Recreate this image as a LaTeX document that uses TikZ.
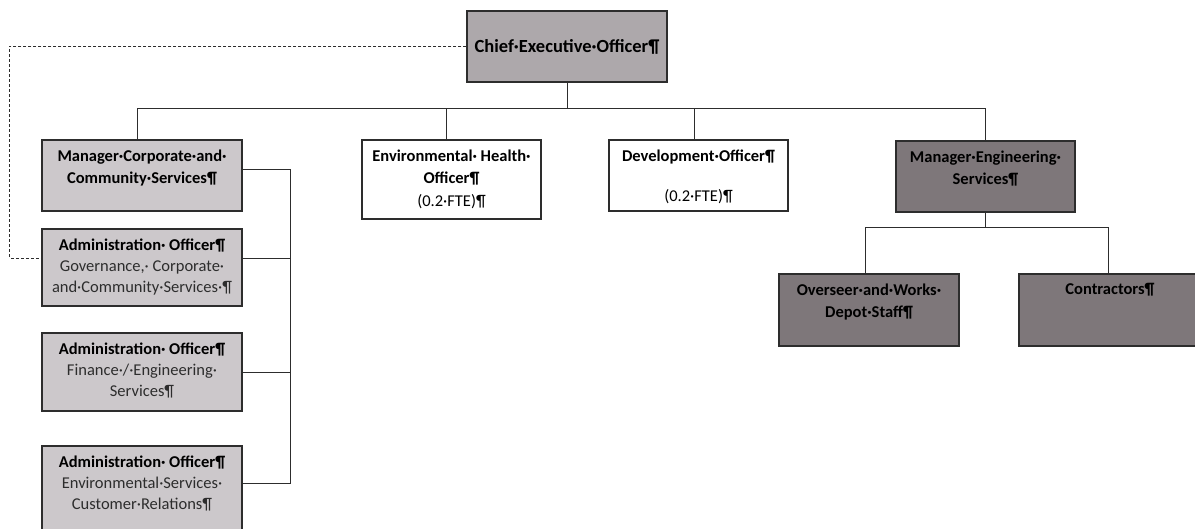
\documentclass[tikz,border=0pt]{standalone}
\usepackage{fontspec}
\setmainfont{Carlito}
\usetikzlibrary{positioning}
\definecolor{ceogrey}{RGB}{173,168,171}
\definecolor{paleunit}{RGB}{204,200,203}
\definecolor{darkunit}{RGB}{126,119,122}
\definecolor{linegrey}{RGB}{45,45,45}
\definecolor{subtext}{RGB}{45,45,45}

\begin{document}
\begin{tikzpicture}[x=1pt, y=-1pt,
  unit/.style={draw=linegrey, line width=1.1pt, inner sep=0pt,
               minimum width=200pt, minimum height=71pt},
  narrow/.style={unit, minimum width=179pt},
  txt/.style={align=center, inner sep=0pt,
              font=\fontsize{16.5}{22.5}\selectfont},
  subtxt/.style={txt, font=\fontsize{16.5}{21}\selectfont},
  conn/.style={draw=linegrey, line width=0.9pt},
  dline/.style={draw=linegrey, line width=0.8pt, dash pattern=on 3pt off 2pt}
]
\useasboundingbox (0,0) rectangle (1195,529);

\node[unit, fill=ceogrey] (ceo) at (567,46.5) {};
\node[txt, font=\fontsize{18.5}{22}\selectfont] (ceo-t) at (ceo) {\textbf{Chief·Executive·Officer¶}};

\node[unit, fill=paleunit] (mcs) at (142,175.5) {};
\node[txt, below=10pt of mcs.north] (mcs-t)
  {\textbf{Manager·Corporate·and·}\\\textbf{Community·Services¶}};
\node[narrow, fill=white, minimum height=79pt] (eho) at (451.5,179.5) {};
\node[txt, below=10pt of eho.north] (eho-t)
  {\textbf{Environmental· Health·}\\\textbf{Officer¶}\\(0.2·FTE)¶};
\node[narrow, fill=white] (dev) at (698.5,175.5) {};
\node[txt, below=10pt of dev.north] (dev-t)
  {\textbf{Development·Officer¶}\\[17.5pt](0.2·FTE)¶};
\node[narrow, fill=darkunit] (mes) at (985.5,176.5) {};
\node[txt, below=10pt of mes.north] (mes-t)
  {\textbf{Manager·Engineering·}\\\textbf{Services¶}};

\node[unit, fill=darkunit, minimum width=180pt, minimum height=72pt] (ovs) at (869,310) {};
\node[txt, below=10pt of ovs.north] (ovs-t)
  {\textbf{Overseer·and·Works·}\\\textbf{Depot·Staff¶}};
\node[unit, fill=darkunit, minimum width=182pt, minimum height=72pt] (con) at (1110,310) {};
\node[txt, below=10pt of con.north] (con-t) {\textbf{Contractors¶}};

\node[unit, fill=paleunit, minimum height=77pt] (adm1) at (142,267.5) {};
\node[subtxt, below=10pt of adm1.north, text=subtext] (adm1-t)
  {\textbf{\color{black}Administration· Officer¶}\\Governance,· Corporate·\\and·Community·Services·¶};
\node[unit, fill=paleunit, minimum height=78pt] (adm2) at (142,372) {};
\node[subtxt, below=10pt of adm2.north, text=subtext] (adm2-t)
  {\textbf{\color{black}Administration· Officer¶}\\Finance·/·Engineering·\\Services¶};
\node[unit, fill=paleunit, minimum height=90pt] (adm3) at (142,491) {};
\node[subtxt, below=10pt of adm3.north, text=subtext] (adm3-t)
  {\textbf{\color{black}Administration· Officer¶}\\Environmental·Services·\\Customer·Relations¶};

\draw[conn] (ceo.south) -- ++(0,26) coordinate (hub);
\draw[conn] (hub) -| ([xshift=-5pt]mcs.north);
\draw[conn] (hub) -| ([xshift=-5pt]eho.north);
\draw[conn] (hub) -| ([xshift=-4pt]dev.north);
\draw[conn] (hub) -| (mes.north);

\draw[conn] (mes.south) -- ++(0,15) coordinate (ehub);
\draw[conn] (ehub) -| ([xshift=-4pt]ovs.north);
\draw[conn] (ehub) -| ([xshift=-2pt]con.north);

\draw[conn] ([yshift=6.5pt]mcs.east) -- ++(48,0) coordinate (lbus)
  |- ([yshift=8pt]adm3.east);
\draw[conn] ([yshift=9.5pt]adm1.east) -| (lbus);
\draw[conn] (adm2.east) -| (lbus);

\draw[dline] (ceo.west) -- ++(-457,0) coordinate (dl)
  |- ([yshift=9.5pt]adm1.west);
\end{tikzpicture}
\end{document}
